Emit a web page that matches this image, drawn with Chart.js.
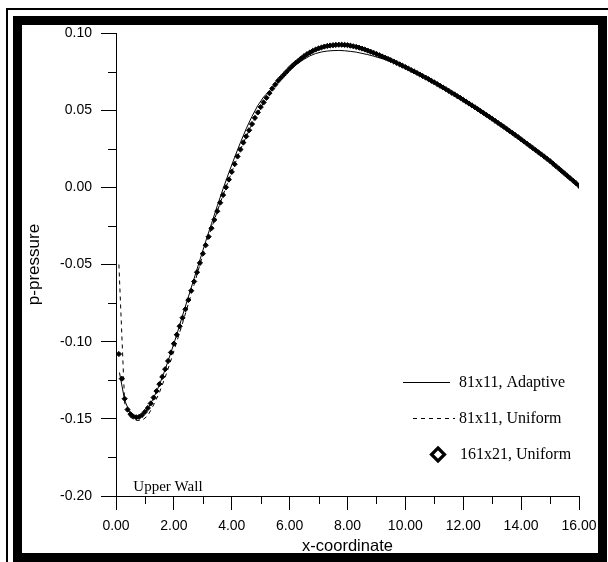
<!DOCTYPE html>
<html><head><meta charset="utf-8">
<script src="https://cdn.jsdelivr.net/npm/chart.js@4/dist/chart.umd.min.js"></script>
<style>
html,body{margin:0;padding:0;background:#fff;width:608px;height:562px;overflow:hidden}
#wrap{position:relative;width:608px;height:562px}
#thin{position:absolute;left:6px;top:8px;width:620px;height:570px;border-left:2px solid #000;border-top:2px solid #000;box-sizing:border-box}
#thick{position:absolute;left:13px;top:16px;width:594px;height:546px;border:9px solid #000;box-sizing:border-box;background:#fff}
canvas{position:absolute;left:0;top:0}
</style></head>
<body><div id="wrap"><div id="thin"></div><div id="thick"></div><canvas id="c" width="608" height="562"></canvas></div>
<script>
// Series labels
const seriesLabels = ['81x11, Adaptive', '81x11, Uniform', '161x21, Uniform'];
// X tick values and Y tick values
const xTickValues = [0, 2, 4, 6, 8, 10, 12, 14, 16];
const yTickValues = [-0.20, -0.15, -0.10, -0.05, 0.00, 0.05, 0.10];

// 81x11, Adaptive (solid line)
const adaptX = [0.12,0.3,0.5,0.7,0.9,1.1,1.3,1.5,1.7,1.9,2.1,2.3,2.5,2.7,2.9,3.1,3.3,3.5,3.7,3.9,4.1,4.3,4.5,4.7,4.9,5.1,5.3,5.5,5.7,5.9,6.1,6.3,6.5,6.7,6.9,7.1,7.3,7.5,7.7,7.9,8.1,8.3,8.5,8.7,8.9,9.1,9.3,9.5,9.7,9.9,10.5,11.0,11.5,12.0,12.5,13.0,13.5,14.0,14.5,15.0,15.5,16.0];
const adaptP = [-0.120,-0.138,-0.147,-0.1495,-0.148,-0.1435,-0.1365,-0.128,-0.118,-0.107,-0.0955,-0.083,-0.071,-0.059,-0.047,-0.035,-0.0235,-0.012,-0.001,0.0095,0.0195,0.029,0.038,0.046,0.053,0.0585,0.0625,0.066,0.0698,0.0745,0.0775,0.0805,0.083,0.0852,0.0867,0.0877,0.0883,0.0886,0.0887,0.0885,0.0881,0.0876,0.0868,0.0860,0.0850,0.0839,0.0828,0.0816,0.0804,0.0791,0.0730,0.0679,0.0624,0.0566,0.0506,0.0443,0.0378,0.0310,0.0240,0.0169,0.0090,0.0010];

// 81x11, Uniform (dashed line)
const unifX = [0.1,0.3,0.5,0.7,0.9,1.1,1.3,1.5,1.7,1.9,2.1,2.3,2.5,2.7,2.9,3.1,3.3,3.5,3.7,3.9,4.3,4.7,5.1,5.5,5.9,6.3,6.7,7.1,7.5,7.9,8.3,8.7,9.1,9.5,9.9,10.3,10.7,11.1,11.5,11.9,12.3,12.7,13.1,13.5,13.9,14.3,14.7,15.1,15.5,15.9];
const unifP = [-0.050,-0.140,-0.149,-0.151,-0.151,-0.148,-0.141,-0.133,-0.123,-0.112,-0.100,-0.088,-0.0755,-0.063,-0.050,-0.0375,-0.0265,-0.0155,-0.005,0.005,0.0245,0.041,0.055,0.0665,0.075,0.082,0.0874,0.0906,0.0921,0.0923,0.0910,0.0886,0.0856,0.0824,0.0788,0.0751,0.0711,0.0669,0.0625,0.0579,0.0531,0.0482,0.0431,0.0379,0.0325,0.0269,0.0213,0.0154,0.0090,0.0026];

// 161x21, Uniform (diamonds)
const fineX = [0.1,0.2,0.3,0.4,0.5,0.6,0.7,0.8,0.9,1.0,
1.1,1.2,1.3,1.4,1.5,1.6,1.7,1.8,1.9,2.0,
2.1,2.2,2.3,2.4,2.5,2.6,2.7,2.8,2.9,3.0,
3.1,3.2,3.3,3.4,3.5,3.6,3.7,3.8,3.9,4.0,
4.1,4.2,4.3,4.4,4.5,4.6,4.7,4.8,4.9,5.0,
5.1,5.2,5.3,5.4,5.5,5.6,5.7,5.8,5.9,6.0,
6.1,6.2,6.3,6.4,6.5,6.6,6.7,6.8,6.9,7.0,
7.1,7.2,7.3,7.4,7.5,7.6,7.7,7.8,7.9,8.0,
8.1,8.2,8.3,8.4,8.5,8.6,8.7,8.8,8.9,9.0,
9.1,9.2,9.3,9.4,9.5,9.6,9.7,9.8,9.9,10.0,
10.1,10.2,10.3,10.4,10.5,10.6,10.7,10.8,10.9,11.0,
11.1,11.2,11.3,11.4,11.5,11.6,11.7,11.8,11.9,12.0,
12.1,12.2,12.3,12.4,12.5,12.6,12.7,12.8,12.9,13.0,
13.1,13.2,13.3,13.4,13.5,13.6,13.7,13.8,13.9,14.0,
14.1,14.2,14.3,14.4,14.5,14.6,14.7,14.8,14.9,15.0,
15.1,15.2,15.3,15.4,15.5,15.6,15.7,15.8,15.9,16.0];
const fineP = [-0.108,-0.124,-0.137,-0.144,-0.147,-0.1485,-0.149,-0.1487,-0.1475,-0.1455,
-0.143,-0.140,-0.1362,-0.132,-0.1275,-0.1228,-0.1178,-0.1125,-0.107,-0.1013,
-0.0955,-0.090,-0.0845,-0.079,-0.073,-0.067,-0.061,-0.055,-0.049,-0.043,
-0.0375,-0.032,-0.0265,-0.021,-0.0155,-0.010,-0.005,0.000,0.005,0.010,
0.015,0.020,0.0245,0.029,0.033,0.037,0.041,0.045,0.0485,0.052,
0.055,0.058,0.061,0.064,0.0665,0.069,0.071,0.073,0.075,0.077,
0.0788,0.0805,0.082,0.0836,0.085,0.0863,0.0874,0.0884,0.0893,0.0900,
0.0906,0.0912,0.0916,0.0919,0.0921,0.0923,0.0924,0.0924,0.0923,0.0921,
0.0918,0.0914,0.0910,0.0905,0.0899,0.0893,0.0886,0.0879,0.0872,0.0864,
0.0856,0.0848,0.0840,0.0832,0.0824,0.0815,0.0806,0.0797,0.0788,0.0779,
0.0770,0.0760,0.0751,0.0741,0.0731,0.0721,0.0711,0.0701,0.0690,0.0680,
0.0669,0.0658,0.0647,0.0636,0.0625,0.0613,0.0602,0.0590,0.0579,0.0567,
0.0555,0.0543,0.0531,0.0519,0.0507,0.0494,0.0482,0.0469,0.0457,0.0444,
0.0431,0.0418,0.0405,0.0392,0.0379,0.0365,0.0352,0.0338,0.0325,0.0311,
0.0297,0.0283,0.0269,0.0255,0.0241,0.0227,0.0213,0.0199,0.0184,0.0170,
0.0154,0.0138,0.0122,0.0106,0.0090,0.0074,0.0058,0.0042,0.0026,0.0010];

const pairs = (xs, ys) => xs.map((x, i) => ({x: x, y: ys[i]}));

const extras = {
  id: 'extras',
  afterDraw(chart) {
    const c = chart.ctx, xs = chart.scales.x, ys = chart.scales.y, ca = chart.chartArea;
    c.save();
    c.strokeStyle = '#000'; c.lineWidth = 1;
    // minor ticks
    const xt = xs.ticks;
    for (let i = 0; i < xt.length - 1; i++) {
      const p = Math.round(xs.getPixelForValue((xt[i].value + xt[i+1].value) / 2)) + 0.5;
      c.beginPath(); c.moveTo(p, ca.bottom); c.lineTo(p, ca.bottom + 8); c.stroke();
    }
    const yt = ys.ticks;
    for (let i = 0; i < yt.length - 1; i++) {
      const p = Math.round(ys.getPixelForValue((yt[i].value + yt[i+1].value) / 2)) + 0.5;
      c.beginPath(); c.moveTo(ca.left - 8, p); c.lineTo(ca.left, p); c.stroke();
    }
    // annotation
    c.fillStyle = '#000';
    c.font = '15px "Liberation Serif"';
    c.textBaseline = 'middle'; c.textAlign = 'left';
    c.fillText('Upper Wall', xs.getPixelForValue(0.6), ys.getPixelForValue(-0.1945));
    // legend
    const ds = chart.data.datasets;
    c.font = '16px "Liberation Serif"';
    const tx = 459;
    c.beginPath(); c.moveTo(403, 382.5); c.lineTo(450, 382.5); c.stroke();
    c.fillText(ds[0].label, tx, 383);
    c.setLineDash([4, 4]);
    c.beginPath(); c.moveTo(413, 418.5); c.lineTo(455, 418.5); c.stroke();
    c.setLineDash([]);
    c.fillText(ds[1].label, tx, 418.5);
    const dx = 438, dy = 454.5, r = 6.5;
    c.beginPath(); c.moveTo(dx, dy - r); c.lineTo(dx + r, dy); c.lineTo(dx, dy + r); c.lineTo(dx - r, dy); c.closePath();
    c.fillStyle = '#fff'; c.fill(); c.lineWidth = 3.2; c.strokeStyle = '#000'; c.stroke();
    c.fillStyle = '#000';
    c.fillText(ds[2].label, tx + 1, 454.5);
    c.restore();
  }
};

const fmt = v => (Math.abs(v) < 1e-9 ? 0 : v).toFixed(2);

new Chart(document.getElementById('c'), {
  type: 'line',
  data: {
    datasets: [
      {label: seriesLabels[0], data: pairs(adaptX, adaptP), borderColor: '#000', borderWidth: 1, pointRadius: 0, tension: 0, fill: false, order: 1},
      {label: seriesLabels[1], data: pairs(unifX, unifP), borderColor: '#000', borderWidth: 1, borderDash: [4, 4], pointRadius: 0, tension: 0, fill: false, order: 2},
      {label: seriesLabels[2], data: pairs(fineX, fineP), showLine: false, pointStyle: 'rectRot', pointRadius: 2.6, pointBackgroundColor: '#000', pointBorderColor: '#000', pointBorderWidth: 1, order: 0}
    ]
  },
  options: {
    responsive: false, animation: false, devicePixelRatio: 1,
    layout: {padding: {left: 20, top: 33, right: 29, bottom: 6}},
    plugins: {legend: {display: false}, tooltip: {enabled: false}},
    scales: {
      x: {
        type: 'linear', min: xTickValues[0], max: xTickValues[xTickValues.length - 1],
        afterBuildTicks: s => { s.ticks = xTickValues.map(v => ({value: v})); },
        ticks: {callback: fmt, font: {family: 'Liberation Sans', size: 14}, color: '#000', padding: 8, maxRotation: 0, autoSkip: false},
        grid: {drawOnChartArea: false, tickLength: 14, color: '#000', lineWidth: 1},
        border: {display: true, color: '#000', width: 1},
        title: {display: true, text: 'x-coordinate', font: {family: 'Liberation Sans', size: 16.5}, color: '#000', padding: 0},
        afterFit: s => { s.height = 60; }
      },
      y: {
        type: 'linear', min: yTickValues[0], max: yTickValues[yTickValues.length - 1],
        afterBuildTicks: s => { s.ticks = yTickValues.map(v => ({value: v})); },
        ticks: {callback: fmt, font: {family: 'Liberation Sans', size: 14}, color: '#000', padding: 9, autoSkip: false},
        grid: {drawOnChartArea: false, tickLength: 15, color: '#000', lineWidth: 1},
        border: {display: true, color: '#000', width: 1},
        title: {display: true, text: 'p-pressure', font: {family: 'Liberation Sans', size: 17}, color: '#000', padding: {top: 4, bottom: 0}},
        afterFit: s => { s.width = 96; }
      }
    }
  },
  plugins: [extras]
});
</script>
</body></html>
